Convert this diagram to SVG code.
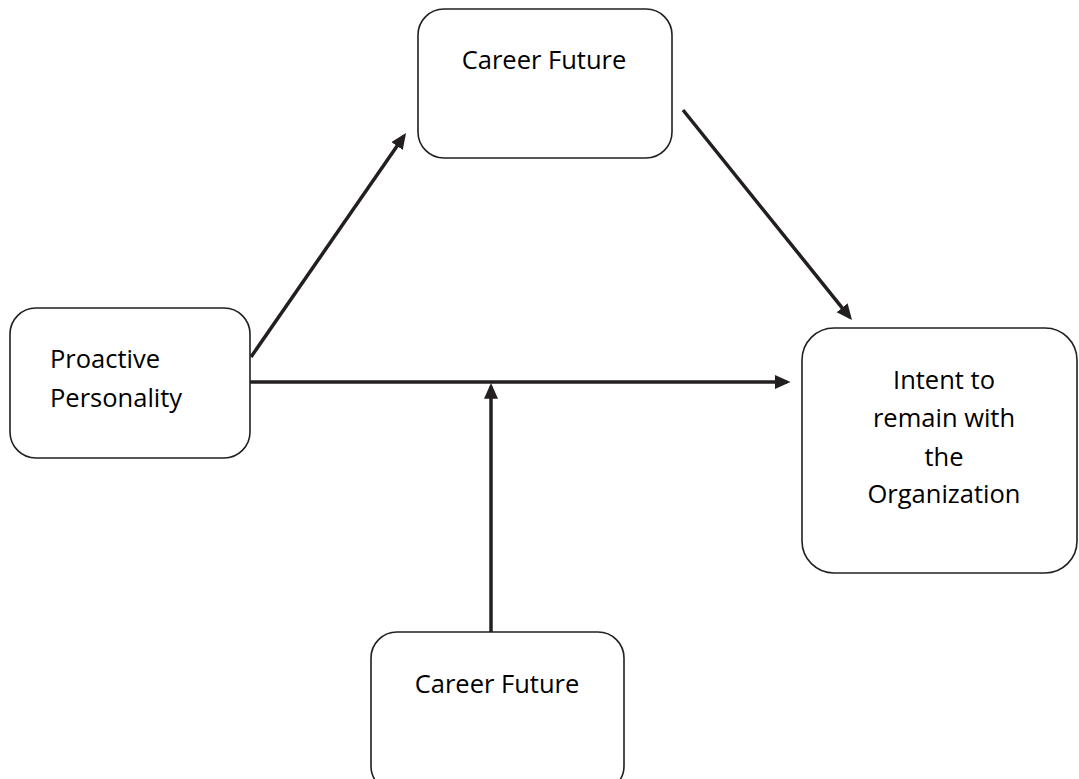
<svg xmlns="http://www.w3.org/2000/svg" width="1079" height="779" viewBox="0 0 1079 779">
<defs>
<marker id="ah" markerWidth="5" markerHeight="5" refX="3.5" refY="2" orient="auto" markerUnits="strokeWidth">
<path d="M0,0 L4.5,2 L0,4 Z" fill="#231f20"/>
</marker>
<style>
.box{fill:#fff;stroke:#231f20;stroke-width:1.6}
.t{font-family:"Open Sans","Liberation Sans",sans-serif;font-size:25.5px;fill:#000}
.c{stroke:#231f20;stroke-width:3.5;fill:none}
</style>
</defs>
<rect width="1079" height="779" fill="#fff"/>
<g id="career-future-top">
<rect class="box" x="418" y="9" width="254" height="149" rx="26"/>
<text class="t" x="544" y="69" text-anchor="middle">Career Future</text>
</g>
<g id="proactive-personality">
<rect class="box" x="10" y="308" width="240" height="150" rx="26"/>
<text class="t" x="50" y="368">Proactive</text>
<text class="t" x="50" y="407">Personality</text>
</g>
<g id="intent">
<rect class="box" x="802" y="328" width="275" height="245" rx="32"/>
<text class="t" x="944" y="389" text-anchor="middle">Intent to</text>
<text class="t" x="944" y="427" text-anchor="middle">remain with</text>
<text class="t" x="944" y="466" text-anchor="middle">the</text>
<text class="t" x="944" y="503" text-anchor="middle">Organization</text>
</g>
<g id="career-future-bottom">
<rect class="box" x="371" y="632" width="253" height="160" rx="26"/>
<text class="t" x="497" y="693" text-anchor="middle">Career Future</text>
</g>
<g id="connectors">
<line class="c" x1="251" y1="357" x2="404" y2="136" marker-end="url(#ah)"/>
<line class="c" x1="683" y1="110" x2="849.8" y2="317.3" marker-end="url(#ah)"/>
<line class="c" x1="250" y1="382" x2="787" y2="382" marker-end="url(#ah)"/>
<line class="c" x1="491" y1="632" x2="491" y2="386.5" marker-end="url(#ah)"/>
</g>
</svg>
